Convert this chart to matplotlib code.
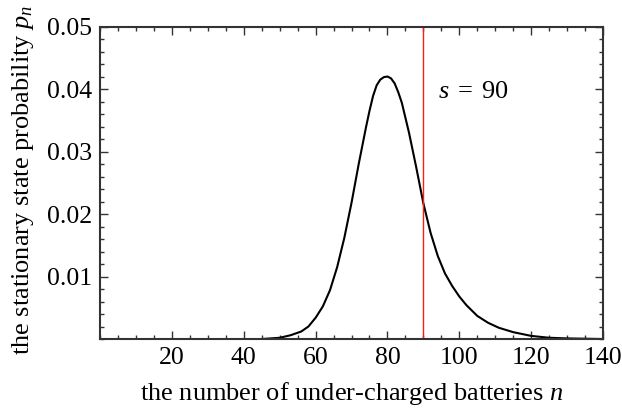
import numpy as np
import matplotlib
matplotlib.use("Agg")
import matplotlib.pyplot as plt
from matplotlib.ticker import MultipleLocator, FixedLocator

plt.rcParams['font.family'] = ['Liberation Serif', 'DejaVu Serif']
plt.rcParams['mathtext.fontset'] = 'custom'
plt.rcParams['mathtext.rm'] = 'Liberation Serif'
plt.rcParams['mathtext.it'] = 'Liberation Serif:italic'

# values
n_vals = [45, 50, 53, 56, 58, 60, 62, 64, 66, 68, 70, 72, 74, 75, 76, 77,
          78, 79, 80, 81, 82, 83, 84, 86, 88, 90, 92, 94, 96, 98, 100, 102,
          105, 108, 111, 115, 120, 125, 130, 140]
p_vals = [0.0, 0.0002, 0.0006, 0.0012, 0.0020, 0.0034, 0.0052, 0.0078,
          0.0115, 0.0162, 0.0218, 0.0280, 0.0338, 0.0365, 0.0389, 0.0406,
          0.0415, 0.0419, 0.0420, 0.0417, 0.0409, 0.0395, 0.0378, 0.0330,
          0.0275, 0.0217, 0.0170, 0.0133, 0.0105, 0.0085, 0.0068, 0.0054,
          0.0037, 0.0026, 0.0018, 0.0011, 0.0005, 0.0002, 0.0001, 0.0]
s_value = 90
x_ticks = [20, 40, 60, 80, 100, 120, 140]
y_ticks = [0.01, 0.02, 0.03, 0.04, 0.05]

fig = plt.figure(figsize=(6.22, 4.09), dpi=100)
ax = fig.add_axes([0.1608, 0.1711, 0.8087, 0.7641])

ax.plot(n_vals, p_vals, color='black', lw=1.5, solid_joinstyle='round')
ax.axvline(s_value, color='#ff1a1a', lw=1.0)
ax.text(94.0, 0.0395, r'$s\;=\;90$', fontsize=19, va='center', ha='left')

ax.set_xlim(0, 140)
ax.set_ylim(0, 0.05)

ax.xaxis.set_major_locator(FixedLocator(x_ticks))
ax.xaxis.set_minor_locator(MultipleLocator(5))
ax.yaxis.set_major_locator(FixedLocator(y_ticks))
ax.yaxis.set_minor_locator(MultipleLocator(0.002))
ax.set_xticklabels([str(t) for t in x_ticks])
ax.set_yticklabels(['%.2f' % t for t in y_ticks])

ax.tick_params(which='both', direction='in', top=True, right=True,
               color='#333333', width=1.0, labelsize=18.5, pad=6)
ax.tick_params(which='major', length=6)
ax.tick_params(which='minor', length=3)
for sp in ax.spines.values():
    sp.set_color('#333333')
    sp.set_linewidth(1.5)

ax.set_xlabel(r'the number of under-charged batteries $n$', fontsize=19, va='center')
ax.set_ylabel(r'the stationary state probability $p_n$', fontsize=19, va='center')
ax.xaxis.set_label_coords(0.5, -0.173)
ax.yaxis.set_label_coords(-0.153, 0.51)

fig.savefig('out.png', dpi=100)
